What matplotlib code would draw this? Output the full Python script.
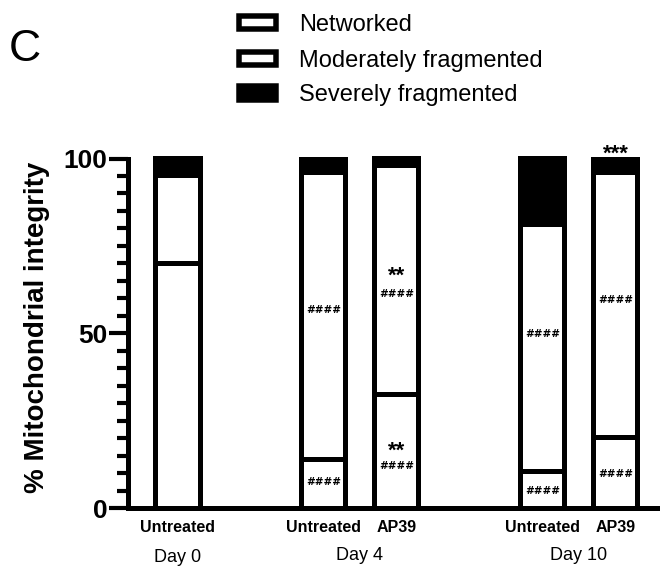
import matplotlib
matplotlib.use("Agg")
import matplotlib.pyplot as plt
from matplotlib.patches import Rectangle
from matplotlib.ticker import MultipleLocator

# ---- data ----
groups = ["Day 0", "Day 4", "Day 10"]
bar_labels = ["Untreated", "Untreated", "AP39", "Untreated", "AP39"]
networked = [70.0, 14.0, 32.7, 10.7, 20.4]
moderate = [25.3, 82.0, 65.4, 70.6, 75.6]
severe = [4.7, 4.0, 1.9, 18.7, 4.0]
series_names = ["Networked", "Moderately fragmented", "Severely fragmented"]
y_ticks = [0, 50, 100]
# annotations: (bar index, value, text)
hash_marks = [(1, 57.0, "####"), (1, 7.7, "####"),
              (2, 61.5, "####"), (2, 12.3, "####"),
              (3, 50.1, "####"), (3, 5.2, "####"),
              (4, 59.8, "####"), (4, 10.0, "####")]
star_marks = [(2, 68.4, "**"), (2, 18.3, "**"), (4, 103.3, "***")]

# ---- layout ----
x_pos = [0, 2, 3, 5, 6]
group_x = [0, 2.5, 5.5]
W, H = 660, 567
fig = plt.figure(figsize=(W / 100, H / 100), dpi=100)

def fx(px):
    return px / W

def fy(py):
    return 1 - py / H

ax_left, ax_right, ax_top, ax_bot = 128, 660, 158.5, 508
ax = fig.add_axes([fx(ax_left), fy(ax_bot), (ax_right - ax_left) / W, (ax_bot - ax_top) / H])

lw = 3.6
bw = 0.603
bottoms2 = [a + b for a, b in zip(networked, moderate)]
ax.bar(x_pos, networked, bw, color="white", edgecolor="black", linewidth=lw, zorder=2, clip_on=False)
ax.bar(x_pos, moderate, bw, bottom=networked, color="white", edgecolor="black", linewidth=lw, zorder=2, clip_on=False)
ax.bar(x_pos, severe, bw, bottom=bottoms2, color="black", edgecolor="black", linewidth=lw, zorder=2, clip_on=False)

ax.set_xlim(-0.678, 6.61)
ax.set_ylim(0, 100)
ax.spines["top"].set_visible(False)
ax.spines["right"].set_visible(False)
ax.spines["left"].set_linewidth(3.6)
ax.spines["bottom"].set_linewidth(3.6)
ax.spines["left"].set_zorder(3)
ax.spines["bottom"].set_zorder(3)

ax.set_yticks(y_ticks)
ax.yaxis.set_minor_locator(MultipleLocator(5))
ax.tick_params(axis="y", which="major", length=13.5, width=3, pad=1.5,
               labelsize=19)
ax.tick_params(axis="y", which="minor", length=8, width=3)
for t in ax.get_yticklabels():
    t.set_fontweight("bold")
    t.set_family("Liberation Sans")

ax.set_xticks(x_pos)
ax.set_xticklabels(bar_labels, fontsize=11.5, fontweight="bold", family="Liberation Sans")
ax.tick_params(axis="x", length=0, pad=8.5)

# annotations
def em_px(fs):
    return fs * 100 / 72

for i, v, s in hash_marks:
    fs = 7.5
    ax.annotate(s, xy=(x_pos[i], v), xytext=(0, -0.36 * fs), textcoords="offset points",
                ha="center", va="baseline", fontsize=fs, fontweight="bold",
                family="DejaVu Sans", annotation_clip=False, zorder=4)
for i, v, s in star_marks:
    fs = 16
    ax.annotate(s, xy=(x_pos[i], v), xytext=(0, -0.57 * fs), textcoords="offset points",
                ha="center", va="baseline", fontsize=fs, fontweight="bold",
                family="Liberation Sans", annotation_clip=False, zorder=4)

# group labels
import matplotlib.transforms as mtransforms
blend = mtransforms.blended_transform_factory(ax.transData, fig.transFigure)
group_tops = [549.5, 546.5, 546.5]
for gx, name, gt in zip(group_x, groups, group_tops):
    fig.text(gx, fy(gt), name, transform=blend, ha="center", va="top",
             fontsize=13, family="Liberation Sans")

# y label
fig.text(fx(37.5), fy(327.5), "% Mitochondrial integrity", rotation=90,
         ha="center", va="center", fontsize=20, fontweight="bold", family="Liberation Sans")

# panel letter
fig.text(fx(9), fy(61), "C", ha="left", va="baseline", fontsize=32, family="Liberation Sans")

# legend (manual)
leg_lw_px = 5.5
row_centers = [22.5, 58.0, 93.0]
fills = ["white", "white", "black"]
for name, yc, fc in zip(series_names, row_centers, fills):
    x0, x1 = 236 + leg_lw_px / 2, 279 - leg_lw_px / 2
    h_out = 18.5
    y0, y1 = yc - h_out / 2 + leg_lw_px / 2, yc + h_out / 2 - leg_lw_px / 2
    fig.add_artist(Rectangle((fx(x0), fy(y1)), fx(x1) - fx(x0), fy(y0) - fy(y1),
                             transform=fig.transFigure, facecolor=fc, edgecolor="black",
                             linewidth=leg_lw_px * 0.72))
    fig.text(fx(299), fy(yc), name, ha="left", va="center_baseline", fontsize=17,
             family="Liberation Sans")

fig.savefig("out.png", dpi=100)
